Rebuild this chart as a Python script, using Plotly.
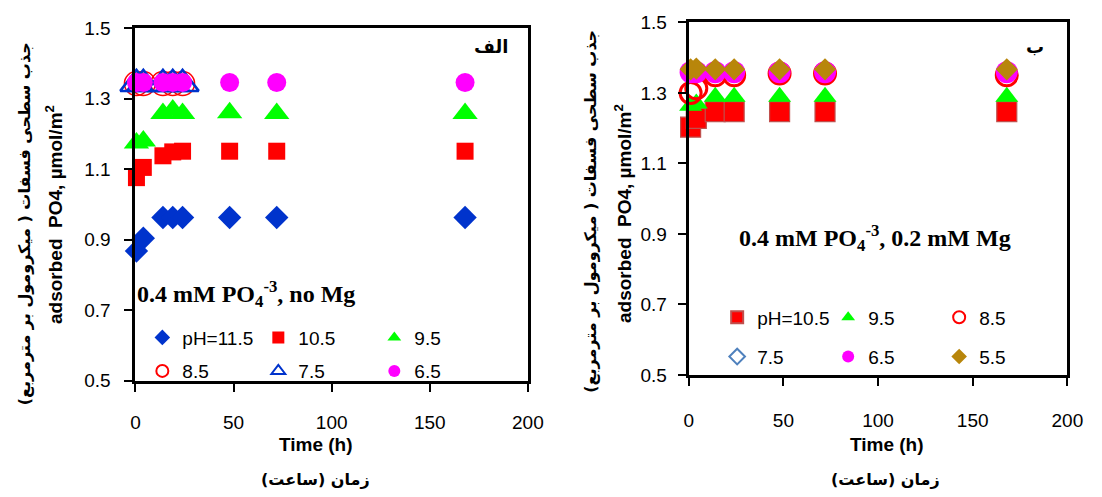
import plotly.graph_objects as go

W, H = 1102, 497

# ---------------- data: left panel (no Mg) ----------------
t_left = [0.5, 4, 14, 19, 24, 48, 72, 168]
t_left_early = [0.5, 4, 14, 19, 24]
L_ph115 = [0.868, 0.904, 0.963, 0.963, 0.963, 0.963, 0.963, 0.963]
L_ph105 = [1.076, 1.105, 1.138, 1.149, 1.151, 1.151, 1.151, 1.151]
L_ph95 = [1.174, 1.180, 1.258, 1.268, 1.258, 1.260, 1.258, 1.258]
L_ph85 = [1.343, 1.343, 1.343, 1.343, 1.343]
L_ph75 = [1.342, 1.342, 1.342, 1.342, 1.342]
L_ph65 = [1.346, 1.346, 1.346, 1.346, 1.346, 1.346, 1.346, 1.346]
L_names = ["pH=11.5", "10.5", "9.5", "8.5", "7.5", "6.5"]

# ---------------- data: right panel (0.2 mM Mg) ----------------
t_right = [1, 4, 14, 24, 48, 72, 168]
R_ph105 = [1.203, 1.228, 1.247, 1.247, 1.247, 1.247, 1.247]
R_ph95 = [1.264, 1.270, 1.289, 1.289, 1.289, 1.289, 1.289]
R_ph85 = [1.300, 1.313, 1.350, 1.350, 1.355, 1.355, 1.350]
R_ph75 = [1.358, 1.358, 1.358, 1.358, 1.358, 1.358, 1.358]
R_ph65 = [1.359, 1.359, 1.359, 1.359, 1.359, 1.359, 1.359]
R_ph55 = [1.367, 1.369, 1.367, 1.367, 1.367, 1.367, 1.367]
R_names = ["pH=10.5", "9.5", "8.5", "7.5", "6.5", "5.5"]

x_ticks = [0, 50, 100, 150, 200]
y_ticks = [0.5, 0.7, 0.9, 1.1, 1.3, 1.5]

BLUE = "#0033CC"
RED = "#FF0000"
GREEN = "#00FF00"
PINK = "#FF00FF"
STEEL = "#4F81BD"
GOLD = "#B8860B"

fig = go.Figure()

def add(x, y, name, sym, size, color, line_color=None, line_w=0, xa="x", ya="y", legend="legend"):
    fig.add_trace(go.Scatter(
        x=x, y=y, name=name, mode="markers", xaxis=xa, yaxis=ya, legend=legend,
        marker=dict(symbol=sym, size=size, color=color,
                    line=dict(color=line_color or color, width=line_w)),
        cliponaxis=False,
    ))

# left panel
add(t_left, L_ph115, L_names[0], "diamond", 18, BLUE, legend="legend")
add(t_left, L_ph105, L_names[1], "square", 17, RED, legend="legend")
add(t_left, L_ph95, L_names[2], "triangle-up", 22, GREEN, legend="legend")
add(t_left_early, L_ph85, L_names[3], "circle-open", 24, RED, RED, 1.5, legend="legend2")
add(t_left_early, L_ph75, L_names[4], "triangle-up-open", 28, BLUE, BLUE, 2.5, legend="legend2")
add(t_left, L_ph65, L_names[5], "circle", 19, PINK, legend="legend2")

# right panel
add(t_right, R_ph105, R_names[0], "square", 20, RED, "#C0504D", 1.2, "x2", "y2", "legend3")
add(t_right, R_ph95, R_names[1], "triangle-up", 20, GREEN, xa="x2", ya="y2", legend="legend3")
add(t_right, R_ph85, R_names[2], "circle-open", 21, RED, RED, 3, "x2", "y2", "legend3")
add(t_right, R_ph75, R_names[3], "diamond-open", 13, STEEL, STEEL, 2.5, "x2", "y2", "legend4")
add(t_right, R_ph65, R_names[4], "circle", 22, PINK, xa="x2", ya="y2", legend="legend4")
add(t_right, R_ph55, R_names[5], "diamond", 17, GOLD, xa="x2", ya="y2", legend="legend4")

TICKFONT = dict(family="Liberation Sans", size=19, color="#000")
axis_common = dict(showgrid=False, zeroline=False, showline=True, linecolor="#000",
                   linewidth=3, mirror=True, ticks="outside", ticklen=8, tickwidth=2,
                   tickcolor="#000", tickfont=TICKFONT)

fig.update_layout(
    width=W, height=H, margin=dict(l=0, r=0, t=0, b=0),
    paper_bgcolor="white", plot_bgcolor="white",
    xaxis=dict(domain=[133 / W, 533 / W], range=[0, 200], tickvals=x_ticks,
               anchor="y", ticklabelstandoff=15, **axis_common),
    yaxis=dict(domain=[1 - 387 / H, 1 - 19 / H], range=[0.5, 1.5], tickvals=y_ticks,
               ticktext=[f"{v:.1f}" for v in y_ticks], anchor="x",
               ticklabelstandoff=10, **axis_common),
    xaxis2=dict(domain=[697 / W, 1083 / W], range=[0, 200], tickvals=x_ticks,
                anchor="y2", ticklabelstandoff=18, **axis_common),
    yaxis2=dict(domain=[1 - 381 / H, 1 - 13 / H], range=[0.5, 1.5], tickvals=y_ticks,
                ticktext=[f"{v:.1f}" for v in y_ticks], anchor="x2",
                ticklabelstandoff=7, **axis_common),
)

LEGFONT = dict(family="Liberation Sans", size=19, color="#000")
def leg(x, y, ew):
    return dict(orientation="h", x=x, y=y, xanchor="left", yanchor="middle",
                font=LEGFONT, bgcolor="rgba(0,0,0,0)", borderwidth=0,
                itemsizing="constant", entrywidth=ew, entrywidthmode="pixels",
                itemwidth=30, tracegroupgap=0)

fig.update_layout(
    legend=leg(140 / W, 1 - 342 / H, 71),
    legend2=leg(140 / W, 1 - 377 / H, 71),
    legend3=leg(726 / W, 1 - 321 / H, 66),
    legend4=leg(726 / W, 1 - 362 / H, 66),
)

ann = []
def text(x, y, s, size, family="Liberation Sans", angle=0):
    ann.append(dict(x=x / W, y=1 - y / H, xref="paper", yref="paper", text=s,
                    showarrow=False, xanchor="center", yanchor="middle", textangle=angle,
                    font=dict(family=family, size=size, color="#000")))

nb = "\u00a0"
text(50, 214, f"<b>adsorbed{nb}{nb}PO4,{nb}µmol/m<sup>2</sup></b>", 19, angle=-90)
text(20, 223, "<b>جذب سطحی فسفات ( میکرومول بر مترمربع)</b>", 16, "DejaVu Sans", -90)
text(630, 212, f"<b>adsorbed{nb}{nb}PO4,{nb}µmol/m<sup>2</sup></b>", 19, angle=-90)
text(597, 210, "<b>جذب سطحی فسفات ( میکرومول بر مترمربع)</b>", 16, "DejaVu Sans", -90)

text(317, 454, "<b>Time (h)</b>", 19)
text(899, 454, "<b>Time (h)</b>", 19)
text(317, 490, "<b>زمان (ساعت)</b>", 16, "DejaVu Sans")
text(898, 490, "<b>زمان (ساعت)</b>", 16, "DejaVu Sans")

text(495, 38, "<b>الف</b>", 18, "DejaVu Sans")
text(1050, 38, "<b>ب</b>", 18, "DejaVu Sans")

text(246, 297, "<b>0.4 mM PO<sub>4</sub><sup>-3</sup>, no Mg</b>", 24, "Liberation Serif")
text(887, 238, "<b>0.4 mM PO<sub>4</sub><sup>-3</sup>, 0.2 mM Mg</b>", 24, "Liberation Serif")

fig.update_layout(annotations=ann)

fig.write_html("out.html")
